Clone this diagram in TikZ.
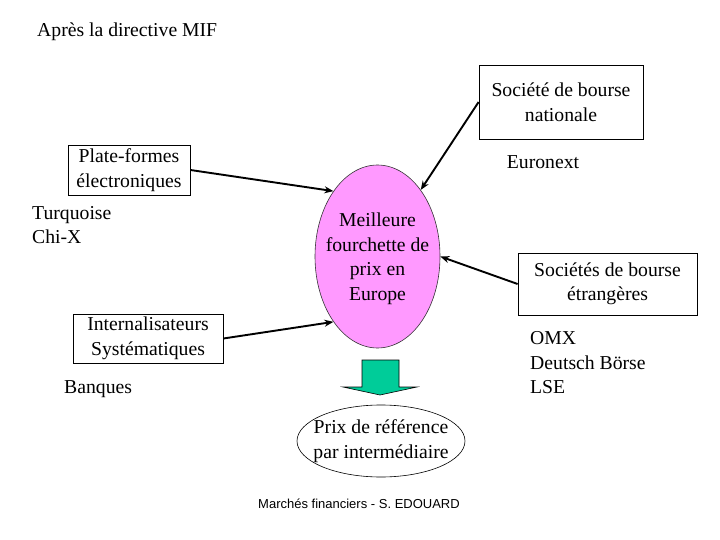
\documentclass[tikz,border=0pt]{standalone}
\usepackage{fontspec}
\setmainfont{Liberation Serif}
\newfontfamily\arialfont{Liberation Sans}
\usetikzlibrary{shapes.geometric,arrows.meta}
\definecolor{pinkfill}{RGB}{255,153,255}
\definecolor{greenfill}{RGB}{0,204,153}
\tikzset{
  txt/.style={font=\fontsize{19.7}{24.5}\selectfont, inner sep=0pt},
  boxnode/.style={draw=black, line width=0.8pt, inner sep=0pt, align=center,
    font=\fontsize{19.7}{24.5}\selectfont},
  conn/.style={line width=1.9pt, -{Stealth[length=9pt,width=7pt]}},
}
\begin{document}
\begin{tikzpicture}[x=1pt,y=-1pt]
\useasboundingbox (0,0) rectangle (720,540);
\fill[white] (0,0) rectangle (720,540);

\node[txt, anchor=west] (title) at (37,32) {Après la directive MIF};

% boxes
\node[boxnode, minimum width=164pt, minimum height=74pt] (sn) at (561,102)
  {Société de bourse\\nationale};
\node[boxnode, minimum width=122pt, minimum height=50pt] (pf) at (129,170)
  {Plate-formes\\électroniques};
\node[boxnode, minimum width=150pt, minimum height=49pt] (is) at (148,338.5)
  {Internalisateurs\\Systématiques};
\node[boxnode, minimum width=179pt, minimum height=62pt] (se) at (607.5,284)
  {Sociétés de bourse\\étrangères};

% free texts
\node[txt] (eu) at (543,162) {Euronext};
\node[txt, anchor=west, align=left] (tq) at (32,225) {Turquoise\\Chi-X};
\node[txt, anchor=west] (bq) at (64,389) {Banques};
\node[txt, anchor=west, align=left] (omx) at (530,363) {OMX\\Deutsch Börse\\LSE};

% central ellipse
\node[ellipse, draw=black!80, line width=0.6pt, fill=pinkfill,
  minimum width=125pt, minimum height=183pt, inner sep=0pt] (mf) at (377.5,256.5) {};
\node[txt, align=center] (mft) at (377.5,259) {Meilleure\\fourchette de\\prix en\\Europe};

% green arrow
\fill[greenfill, draw=black, line width=0.6pt]
  (362,360) -- (399,360) -- (399,387) -- (417,387) -- (380,395) -- (343,387) -- (362,387) -- cycle;

% bottom ellipse
\node[ellipse, draw=black, line width=0.6pt, minimum width=168pt, minimum height=72pt,
  inner sep=0pt] (pr) at (381,441) {};
\node[txt, align=center] (prt) at (pr.center) {Prix de référence\\par intermédiaire};

% connectors
\draw[conn] (pf.east) -- (mf.124);
\draw[conn] (sn.west) -- (mf.57);
\draw[conn] (se.west) -- (mf.0);
\draw[conn] (is.east) -- (mf.236);

% footer
\node[inner sep=0pt, font=\arialfont\fontsize{13}{14}\selectfont] (ft) at (359,504)
  {Marchés financiers - S. EDOUARD};
\end{tikzpicture}
\end{document}
